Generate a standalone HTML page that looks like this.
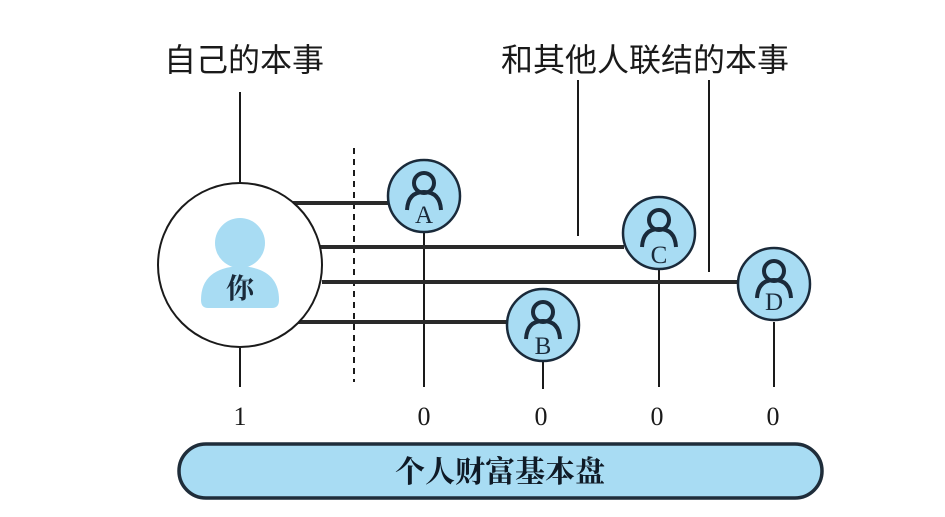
<!DOCTYPE html>
<html><head><meta charset="utf-8"><style>
html,body{margin:0;padding:0;background:#fff;}
svg{display:block}
</style></head><body>
<svg width="945" height="517" viewBox="0 0 945 517" xmlns="http://www.w3.org/2000/svg">
<g stroke="#1a1a1a" stroke-width="2" fill="none">
<line x1="240" y1="92" x2="240" y2="183"/>
<line x1="240" y1="348" x2="240" y2="387"/>
<line x1="578" y1="80" x2="578" y2="236"/>
<line x1="709" y1="80" x2="709" y2="272"/>
<line x1="424" y1="232" x2="424" y2="387"/>
<line x1="659" y1="270" x2="659" y2="387"/>
<line x1="774" y1="322" x2="774" y2="387"/>
<line x1="543" y1="361" x2="543" y2="389"/>
<line x1="354" y1="148" x2="354" y2="382" stroke-dasharray="6,5"/>
</g>
<g stroke="#2a2a2a" stroke-width="4">
<line x1="293" y1="203" x2="390" y2="203"/>
<line x1="320" y1="247" x2="624" y2="247"/>
<line x1="322" y1="282" x2="739" y2="282"/>
<line x1="298" y1="322" x2="508" y2="322"/>
</g>
<circle cx="240" cy="265" r="82" fill="#fff" stroke="#1a1a1a" stroke-width="2"/>
<circle cx="240" cy="243" r="25" fill="#a8dcf3"/>
<path d="M208 308 Q201 308 201 300 Q201 268 240 266 Q279 268 279 300 Q279 308 272 308 Z" fill="#a8dcf3"/>
<text x="240" y="298" font-family="Liberation Serif,'Noto Serif CJK SC',serif" font-size="28" font-weight="bold" text-anchor="middle" fill="#1a2a3a">你</text>
<g font-family="Liberation Serif,serif" font-size="25" text-anchor="middle" fill="#1a2a3a">
<g transform="translate(424,196)"><circle r="36" fill="#a8dcf3" stroke="#1a2a3a" stroke-width="2.5"/><circle cy="-13" r="10" fill="none" stroke="#1a2a3a" stroke-width="4"/><path d="M-17 14 Q-16 -4 0 -4 Q16 -4 17 14" fill="none" stroke="#1a2a3a" stroke-width="4"/><text y="27">A</text></g>
<g transform="translate(659,233)"><circle r="36" fill="#a8dcf3" stroke="#1a2a3a" stroke-width="2.5"/><circle cy="-13" r="10" fill="none" stroke="#1a2a3a" stroke-width="4"/><path d="M-17 14 Q-16 -4 0 -4 Q16 -4 17 14" fill="none" stroke="#1a2a3a" stroke-width="4"/><text y="30">C</text></g>
<g transform="translate(774,284)"><circle r="36" fill="#a8dcf3" stroke="#1a2a3a" stroke-width="2.5"/><circle cy="-13" r="10" fill="none" stroke="#1a2a3a" stroke-width="4"/><path d="M-17 14 Q-16 -4 0 -4 Q16 -4 17 14" fill="none" stroke="#1a2a3a" stroke-width="4"/><text y="26">D</text></g>
<g transform="translate(543,325)"><circle r="36" fill="#a8dcf3" stroke="#1a2a3a" stroke-width="2.5"/><circle cy="-13" r="10" fill="none" stroke="#1a2a3a" stroke-width="4"/><path d="M-17 14 Q-16 -4 0 -4 Q16 -4 17 14" fill="none" stroke="#1a2a3a" stroke-width="4"/><text y="29">B</text></g>
</g>
<g font-family="Liberation Serif,serif" font-size="26" text-anchor="middle" fill="#1a1a1a">
<text x="240" y="425">1</text><text x="424" y="425">0</text><text x="541" y="425">0</text><text x="657" y="425">0</text><text x="773" y="425">0</text>
</g>
<g font-family="Liberation Sans,'Noto Sans CJK SC',sans-serif" font-size="32" text-anchor="middle" fill="#1a1a1a">
<text x="244" y="71">自己的本事</text>
<text x="645" y="71">和其他人联结的本事</text>
</g>
<rect x="179" y="444" width="643" height="54" rx="27" fill="#a8dcf3" stroke="#1f2d3a" stroke-width="3.5"/>
<text x="500" y="482" font-family="Liberation Serif,'Noto Serif CJK SC',serif" font-size="30" font-weight="bold" text-anchor="middle" fill="#0f1a26">个人财富基本盘</text>
</svg>
</body></html>
